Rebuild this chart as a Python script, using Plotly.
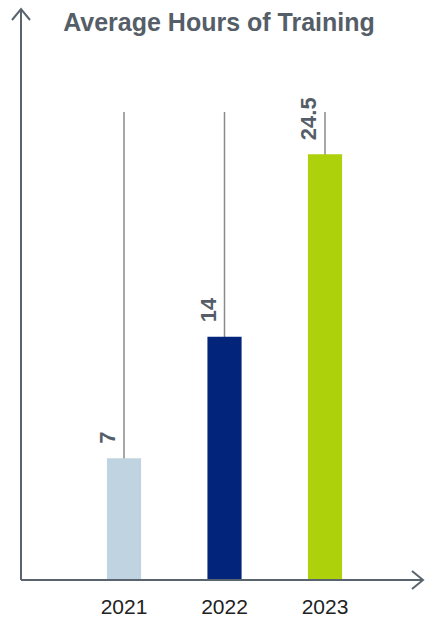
import plotly.graph_objects as go

years = ["2021", "2022", "2023"]
hours = [7, 14, 24.5]
bar_colors = ["#c0d3e0", "#03247b", "#add10a"]
value_labels = ["7", "14", "24.5"]
title_text = "Average Hours of Training"

W, H = 425, 622
L, R, T, B = 21, 2, 9, 42
pw, ph = W - L - R, H - T - B

def px(x):
    return (x - L) / pw

def py(y):
    return (H - B - y) / ph

axis_col = "#5a646e"
label_col = "#555e68"

fig = go.Figure()
fig.add_trace(go.Bar(
    x=years, y=hours, marker=dict(color=bar_colors, line=dict(width=0)),
    width=0.34, hoverinfo="skip",
))

shapes = []
for i, yr in enumerate(years):
    shapes.append(dict(type="line", xref="x", yref="paper", x0=i, x1=i,
                       y0=0, y1=py(112), line=dict(color="#8a8a8a", width=1.5),
                       layer="below"))
# axes with arrows
shapes.append(dict(type="line", xref="paper", yref="paper", x0=0, x1=0, y0=0, y1=1,
                   line=dict(color=axis_col, width=2)))
shapes.append(dict(type="line", xref="paper", yref="paper", x0=0, x1=1, y0=0, y1=0,
                   line=dict(color=axis_col, width=2)))
shapes.append(dict(type="path", xref="paper", yref="paper",
                   path=f"M {px(12)} {py(20)} L 0 1 L {px(30)} {py(20)}",
                   line=dict(color=axis_col, width=2)))
shapes.append(dict(type="path", xref="paper", yref="paper",
                   path=f"M {px(412)} {py(571)} L 1 0 L {px(412)} {py(589)}",
                   line=dict(color=axis_col, width=2)))

annotations = []
for i, (v, t) in enumerate(zip(hours, value_labels)):
    annotations.append(dict(x=i, y=v, xref="x", yref="y", text=f"<b>{t}</b>",
                            showarrow=False, textangle=-90, xanchor="right",
                            yanchor="bottom", xshift=-2, yshift=12,
                            font=dict(family="Liberation Sans, Arial", size=22, color=label_col)))

fig.update_layout(
    width=W, height=H,
    margin=dict(l=L, r=R, t=T, b=B),
    plot_bgcolor="rgba(0,0,0,0)", paper_bgcolor="white",
    showlegend=False,
    title=dict(text=f"<b>{title_text}</b>", x=219 / W, xanchor="center",
               y=1 - 22 / H, yanchor="middle", yref="container",
               font=dict(family="Liberation Sans, Arial", size=25, color=label_col)),
    xaxis=dict(type="category", range=[-1.025, 2.975], showline=False, showgrid=False,
               zeroline=False, ticks="", ticklabelstandoff=12,
               tickfont=dict(family="Liberation Sans, Arial", size=21, color="#222222")),
    yaxis=dict(range=[0, ph / 17.38], showline=False, showgrid=False, zeroline=False,
               showticklabels=False, ticks=""),
    shapes=shapes,
    annotations=annotations,
)

fig.write_html("out.html", config={"displayModeBar": False})
with open("out.html", encoding="utf-8") as f:
    html = f.read()
html = html.replace("<body>", '<body style="margin:0;padding:0">', 1)
with open("out.html", "w", encoding="utf-8") as f:
    f.write(html)
